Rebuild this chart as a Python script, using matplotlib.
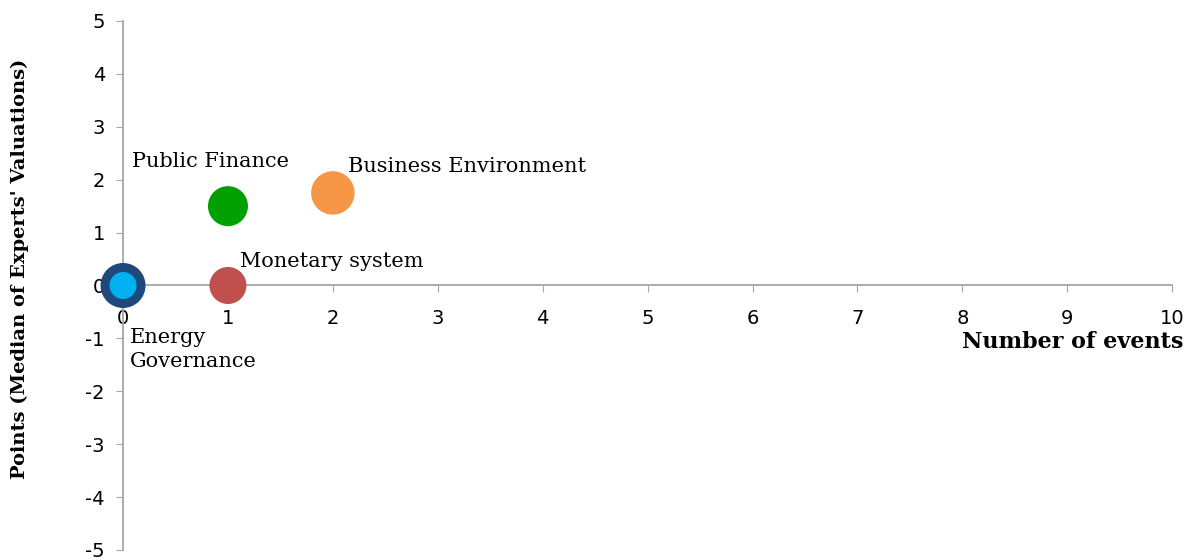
import numpy as np
from matplotlib import pyplot as plt

# bubble data
names = ['Energy', 'Governance', 'Public Finance', 'Business Environment', 'Monetary system']
events = [0, 0, 1, 2, 1]
points = [0, 0, 1.5, 1.75, 0]
bubble = [1050, 380, 830, 980, 710]
colors = ['#1f497d', '#00b0f0', '#00a000', '#f79646', '#c0504d']

x_ticks = np.arange(0, 11)
y_ticks = np.arange(-5, 6)

SERIF = 'DejaVu Serif'
SANS = 'DejaVu Sans'
plt.rcParams['axes.unicode_minus'] = False

fig = plt.figure(figsize=(11.9, 5.6), dpi=100)
ax = fig.add_axes([0.1034, 0.0179, 0.8816, 0.9446])

for i in range(len(names)):
    ax.scatter(events[i], points[i], s=bubble[i], color=colors[i],
               edgecolors='none', zorder=3 + i, clip_on=False)

ax.set_xlim(0, 10)
ax.set_ylim(-5, 5)

ax.spines['left'].set_position(('data', 0))
ax.spines['bottom'].set_position(('data', 0))
ax.spines['top'].set_visible(False)
ax.spines['right'].set_visible(False)
for s in ['left', 'bottom']:
    ax.spines[s].set_color('#a6a6a6')
    ax.spines[s].set_linewidth(1.3)

ax.set_xticks(x_ticks)
ax.set_yticks(y_ticks)
ax.tick_params(axis='x', direction='out', length=5, color='#a6a6a6',
               pad=12, labelsize=14)
ax.tick_params(axis='y', direction='out', length=5, color='#a6a6a6',
               pad=8, labelsize=14)
for lab in ax.get_xticklabels() + ax.get_yticklabels():
    lab.set_family(SANS)

# labels for bubbles
ax.annotate('Public Finance', (1, 1.5), xytext=(-17, 45), textcoords='offset pixels',
            ha='center', va='center', fontsize=15, family=SERIF)
ax.annotate('Business Environment', (2, 1.75), xytext=(15, 26), textcoords='offset pixels',
            ha='left', va='center', fontsize=15, family=SERIF)
ax.annotate('Monetary system', (1, 0), xytext=(12, 24), textcoords='offset pixels',
            ha='left', va='center', fontsize=15, family=SERIF)
ax.annotate('Energy\nGovernance', (0, 0), xytext=(7, -64), textcoords='offset pixels',
            ha='left', va='center', fontsize=15, family=SERIF, linespacing=1.3)

fig.text(0.9945, 0.389, 'Number of events', ha='right', va='center',
         fontsize=16, fontweight='bold', family=SERIF)
fig.text(0.017, 0.52, "Points (Median of Experts' Valuations)", rotation=90,
         ha='center', va='center', fontsize=14, fontweight='bold', family=SERIF)

fig.savefig('out.png', dpi=100)
